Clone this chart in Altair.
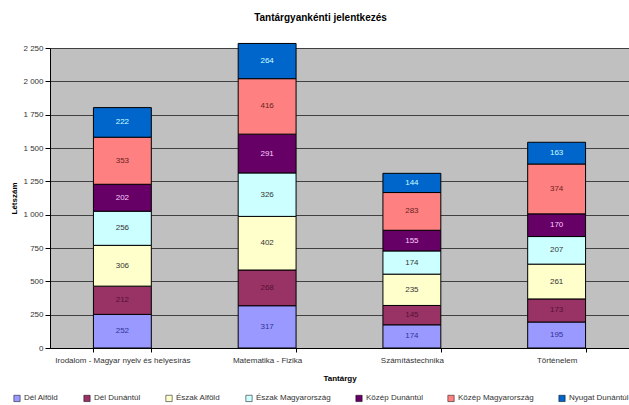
import altair as alt
import pandas as pd

subjects = [
    "Irodalom - Magyar nyelv és helyesírás",
    "Matematika - Fizika",
    "Számítástechnika",
    "Történelem",
]
regions = [
    "Dél Alföld",
    "Dél Dunántúl",
    "Észak Alföld",
    "Észak Magyarország",
    "Közép Dunántúl",
    "Közép Magyarország",
    "Nyugat Dunántúl",
]
# applicants per region, one list per subject (same order as regions)
irodalom = [252, 212, 306, 256, 202, 353, 222]
matematika = [317, 268, 402, 326, 291, 416, 264]
szamitastechnika = [174, 145, 235, 174, 155, 283, 144]
tortenelem = [195, 173, 261, 207, 170, 374, 163]

y_ticks = [0, 250, 500, 750, 1000, 1250, 1500, 1750, 2000, 2250]

fill_colors = ["#9999FF", "#993366", "#FFFFCC", "#CCFFFF", "#660066", "#FF8080", "#0066CC"]
label_colors = ["#333399", "#551133", "#333333", "#333333", "#FFCCFF", "#662222", "#CCFFFF"]

rows = []
for subj, vals in zip(subjects, [irodalom, matematika, szamitastechnika, tortenelem]):
    for i, (reg, v) in enumerate(zip(regions, vals)):
        rows.append({"subject": subj, "region": reg, "value": v, "idx": i,
                     "tcolor": label_colors[i]})
df = pd.DataFrame(rows)

base = alt.Chart(df).transform_stack(
    stack="value", groupby=["subject"], as_=["y0", "y1"],
    sort=[alt.SortField("idx", order="ascending")],
).transform_calculate(mid="(datum.y0 + datum.y1) / 2")

y_scale = alt.Scale(domain=[0, 2250], nice=False, zero=True)
x_scale = alt.Scale(paddingInner=0.6, paddingOuter=0.3)

x_axis = alt.Axis(labelAngle=0, tickBand="extent", labelFontSize=8, labelColor="#333333",
                  titleFontSize=8, titleFontWeight="bold", titlePadding=10,
                  domainColor="#000000", tickColor="#000000", tickSize=4, labelPadding=4,
                  labelLimit=300)
y_axis = alt.Axis(values=y_ticks, labelOverlap=False,
                  labelExpr="datum.value >= 1000 ? floor(datum.value / 1000) + ' ' + format(datum.value % 1000, '03d') : datum.value",
                  labelFontSize=8, labelColor="#333333", titleFontSize=8,
                  titleFontWeight="bold", titlePadding=4,
                  grid=True, gridColor="#404040", gridWidth=1,
                  domainColor="#000000", tickColor="#000000", tickSize=5)

bars = base.mark_bar(stroke="#000000", strokeWidth=1).encode(
    x=alt.X("subject:N", sort=subjects, title="Tantárgy", scale=x_scale, axis=x_axis),
    y=alt.Y("y1:Q", title="Létszám", scale=y_scale, axis=y_axis),
    y2="y0:Q",
    color=alt.Color("region:N", sort=regions, title=None,
                    scale=alt.Scale(domain=regions, range=fill_colors),
                    legend=alt.Legend(orient="none", direction="horizontal", columns=7,
                                      legendX=-37, legendY=346, symbolType="square",
                                      symbolSize=40, symbolStrokeColor="#000000",
                                      symbolStrokeWidth=0.5, labelFontSize=8,
                                      labelColor="#333333", columnPadding=23,
                                      symbolOffset=0, labelOffset=3)),
    order=alt.Order("idx:Q"),
)

labels = base.mark_text(fontSize=8, font="Liberation Sans").encode(
    x=alt.X("subject:N", sort=subjects, title="Tantárgy", scale=x_scale, axis=x_axis),
    y=alt.Y("mid:Q", title="Létszám", scale=y_scale, axis=y_axis),
    text="value:Q",
    color=alt.Color("tcolor:N", scale=None),
)

chart = alt.layer(bars, labels).properties(
    width=579,
    height=300,
    title=alt.TitleParams("Tantárgyankénti jelentkezés", fontSize=10, fontWeight="bold",
                          dx=-19, offset=20, font="Liberation Sans"),
    autosize=alt.AutoSizeParams(type="none"),
    padding={"left": 50, "top": 48, "right": 0, "bottom": 57},
).configure(font="Liberation Sans").configure_view(
    fill="#C0C0C0", stroke="#808080", strokeWidth=1
)

chart.save("out.html", embed_options={"renderer": "svg", "actions": False})
